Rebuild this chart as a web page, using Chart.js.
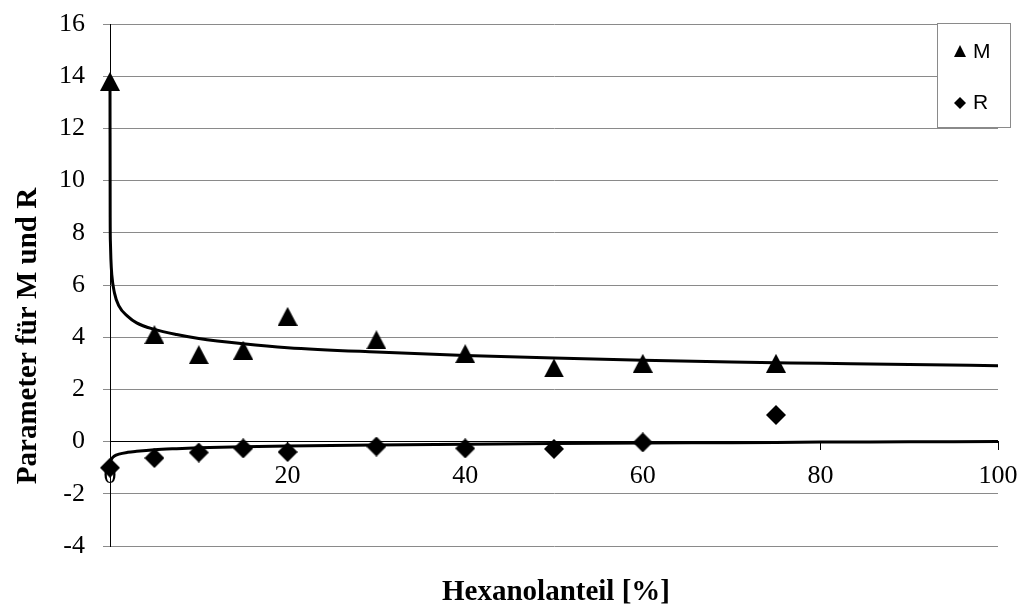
<!DOCTYPE html>
<html>
<head>
<meta charset="utf-8">
<script src="https://cdn.jsdelivr.net/npm/chart.js@4/dist/chart.umd.min.js"></script>
<style>
  html, body { margin: 0; padding: 0; background: #fff; }
  #wrap { width: 1030px; height: 607px; }
</style>
</head>
<body>
<div id="wrap"><canvas id="chart" width="1030" height="607"></canvas></div>
<script>
// Hexanol share (%) and fitted parameters M and R
const hexanol = [0, 5, 10, 15, 20, 30, 40, 50, 60, 75];
const paramM  = [13.8, 4.1, 3.33, 3.5, 4.8, 3.9, 3.37, 2.82, 3.0, 3.0];
const paramR  = [-1.0, -0.63, -0.42, -0.26, -0.4, -0.19, -0.26, -0.28, -0.03, 1.02];

// Trend curves through both series
const trendX = [0, 0.02, 0.05, 0.1, 0.2, 0.5, 1, 2, 3, 5, 7.5, 10, 15, 20, 30, 40, 50, 60, 70, 80, 90, 100];
const trendM = [13.8, 8.6, 7.6, 7.0, 6.4, 5.7, 5.2, 4.8, 4.55, 4.3, 4.1, 3.95, 3.75, 3.6, 3.43, 3.3, 3.2, 3.12, 3.05, 3.0, 2.95, 2.91];
const trendR = [-1.0, -0.88, -0.79, -0.72, -0.65, -0.55, -0.48, -0.41, -0.37, -0.31, -0.27, -0.24, -0.2, -0.17, -0.13, -0.1, -0.07, -0.05, -0.04, -0.02, -0.01, 0.0];

const yTicks = [-4, -2, 0, 2, 4, 6, 8, 10, 12, 14, 16];
const xTicks = [0, 20, 40, 60, 80, 100];

const seriesNames = ['M', 'R'];
const xTitle = 'Hexanolanteil [%]';
const yTitle = 'Parameter für M und R';

// marker sprites (centred on their bounding box)
function triangleSprite(w, h) {
  const c = document.createElement('canvas');
  c.width = w; c.height = h;
  const g = c.getContext('2d');
  g.fillStyle = '#000';
  g.beginPath();
  g.moveTo(w / 2, 0);
  g.lineTo(w, h);
  g.lineTo(0, h);
  g.closePath();
  g.fill();
  return c;
}
function diamondSprite(w, h) {
  const c = document.createElement('canvas');
  c.width = w; c.height = h;
  const g = c.getContext('2d');
  g.fillStyle = '#000';
  g.beginPath();
  g.moveTo(w / 2, 0);
  g.lineTo(w, h / 2);
  g.lineTo(w / 2, h);
  g.lineTo(0, h / 2);
  g.closePath();
  g.fill();
  return c;
}
const triMarker = triangleSprite(20, 19);
const diaMarker = diamondSprite(20, 20);

const toPoints = (xs, ys) => xs.map((x, i) => ({ x: x, y: ys[i] }));

// axis titles and the boxed legend
const decorations = {
  id: 'decorations',
  afterDraw(chart) {
    const ctx = chart.ctx;
    ctx.save();
    // y title
    ctx.fillStyle = '#000';
    ctx.font = 'bold 29px "Liberation Serif", "Times New Roman", serif';
    ctx.textAlign = 'center';
    ctx.textBaseline = 'alphabetic';
    ctx.save();
    ctx.translate(36, 336);
    ctx.rotate(-Math.PI / 2);
    ctx.fillText(yTitle, 0, 0);
    ctx.restore();
    // x title
    ctx.fillText(xTitle, 556, 600);

    // legend box
    const lx = 937.5, ly = 23.5, lw = 73, lh = 104;
    ctx.fillStyle = '#fff';
    ctx.fillRect(lx, ly, lw, lh);
    ctx.strokeStyle = '#8a8a8a';
    ctx.lineWidth = 1;
    ctx.strokeRect(lx, ly, lw, lh);
    ctx.fillStyle = '#000';
    // small triangle
    ctx.beginPath();
    ctx.moveTo(960, 45);
    ctx.lineTo(966, 57);
    ctx.lineTo(954, 57);
    ctx.closePath();
    ctx.fill();
    // small diamond
    ctx.beginPath();
    ctx.moveTo(960, 97);
    ctx.lineTo(966, 103);
    ctx.lineTo(960, 109);
    ctx.lineTo(954, 103);
    ctx.closePath();
    ctx.fill();
    ctx.font = '21px "Liberation Sans", Arial, sans-serif';
    ctx.textAlign = 'left';
    ctx.textBaseline = 'middle';
    ctx.fillText(seriesNames[0], 973, 52);
    ctx.fillText(seriesNames[1], 973, 103);
    ctx.restore();
  }
};

new Chart(document.getElementById('chart'), {
  type: 'scatter',
  data: {
    datasets: [
      {
        label: seriesNames[0],
        data: toPoints(hexanol, paramM),
        pointStyle: triMarker,
        pointRadius: 10,
        showLine: false,
        clip: false,
        order: 1
      },
      {
        label: seriesNames[1],
        data: toPoints(hexanol, paramR),
        pointStyle: diaMarker,
        pointRadius: 10,
        showLine: false,
        clip: false,
        order: 1
      },
      {
        label: 'trend M',
        data: toPoints(trendX, trendM),
        showLine: true,
        borderColor: '#000',
        borderWidth: 3,
        pointRadius: 0,
        cubicInterpolationMode: 'monotone',
        clip: false,
        order: 2
      },
      {
        label: 'trend R',
        data: toPoints(trendX, trendR),
        showLine: true,
        borderColor: '#000',
        borderWidth: 3,
        pointRadius: 0,
        cubicInterpolationMode: 'monotone',
        clip: false,
        order: 2
      }
    ]
  },
  options: {
    responsive: false,
    animation: false,
    events: [],
    layout: { padding: { left: 0, right: 32, top: 24, bottom: 61 } },
    plugins: {
      legend: { display: false },
      tooltip: { enabled: false }
    },
    scales: {
      x: {
        type: 'linear',
        position: { y: 0 },
        min: 0,
        max: 100,
        afterBuildTicks(scale) { scale.ticks = xTicks.map(v => ({ value: v })); },
        afterFit(scale) { scale.paddingLeft = 0; scale.paddingRight = 0; scale.paddingTop = 0; scale.paddingBottom = 0; },
        grid: { drawOnChartArea: false, drawTicks: true, tickLength: 8, color: '#000' },
        border: { display: true, color: '#000', width: 1 },
        ticks: {
          color: '#000',
          padding: 11,
          maxRotation: 0,
          font: { family: '"Liberation Serif", "Times New Roman", serif', size: 26 }
        }
      },
      y: {
        type: 'linear',
        position: 'left',
        min: -4,
        max: 16,
        afterBuildTicks(scale) { scale.ticks = yTicks.map(v => ({ value: v })); },
        afterFit(scale) { scale.width = 110; scale.paddingTop = 0; scale.paddingBottom = 0; },
        grid: { color: '#8a8a8a', lineWidth: 1, drawTicks: true, tickLength: 7 },
        border: { display: true, color: '#000', width: 1 },
        ticks: {
          color: '#000',
          padding: 18,
          font: { family: '"Liberation Serif", "Times New Roman", serif', size: 26 }
        }
      }
    }
  },
  plugins: [decorations]
});
</script>
</body>
</html>
